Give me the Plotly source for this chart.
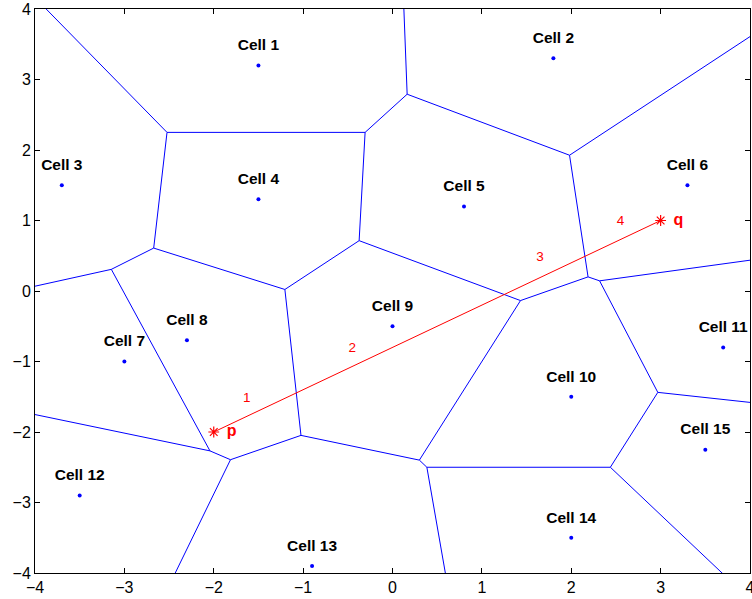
import numpy as np
import plotly.graph_objects as go

# Generator sites of the Voronoi cells
site_x = [-1.5, 1.8, -3.7, -1.5, 0.8, 3.3, -3.0, -2.3, 0.0, 2.0, 3.7, -3.5, -0.9, 2.0, 3.5]
site_y = [3.2, 3.3, 1.5, 1.3, 1.2, 1.5, -1.0, -0.7, -0.5, -1.5, -0.8, -2.9, -3.9, -3.5, -2.25]
cell_names = ["Cell %d" % (k + 1) for k in range(len(site_x))]

# Query segment from p to q
p_pt = (-2.0, -2.0)
q_pt = (3.0, 1.0)
seg_names = ["p", "q"]

# Sub-segment numbers along p-q
seg_num_x = [-1.63, -0.45, 1.65, 2.55]
seg_num_y = [-1.52, -0.82, 0.47, 0.99]
seg_num_text = ["1", "2", "3", "4"]

tick_vals = [-4, -3, -2, -1, 0, 1, 2, 3, 4]
tick_text = ["\u22124", "\u22123", "\u22122", "\u22121", "0", "1", "2", "3", "4"]


def clip_cell(verts, labels, a, c, tag):
    """Clip polygon to half-plane a.x <= c; new edges receive label tag."""
    out_v, out_l = [], []
    n = len(verts)
    for k in range(n):
        P, Q, L = verts[k], verts[(k + 1) % n], labels[k]
        fp, fq = a @ P - c, a @ Q - c
        pin, qin = fp <= 0, fq <= 0
        if pin and qin:
            out_v.append(P); out_l.append(L)
        elif pin and not qin:
            t = fp / (fp - fq)
            out_v.append(P); out_l.append(L)
            out_v.append(P + t * (Q - P)); out_l.append(tag)
        elif not pin and qin:
            t = fp / (fp - fq)
            out_v.append(P + t * (Q - P)); out_l.append(L)
    return out_v, out_l


sites = np.column_stack([site_x, site_y])
B = 20.0
edge_x, edge_y = [], []
for i, si in enumerate(sites):
    verts = [np.array(v, float) for v in [(-B, -B), (B, -B), (B, B), (-B, B)]]
    labels = [-1, -1, -1, -1]
    for j, sj in enumerate(sites):
        if j == i:
            continue
        a = 2 * (sj - si)
        c = sj @ sj - si @ si
        verts, labels = clip_cell(verts, labels, a, c, j)
    n = len(verts)
    for k in range(n):
        j = labels[k]
        if j > i:
            P, Q = verts[k], verts[(k + 1) % n]
            edge_x += [P[0], Q[0], None]
            edge_y += [P[1], Q[1], None]

fig = go.Figure()

fig.add_trace(go.Scatter(x=edge_x, y=edge_y, mode="lines",
                         line=dict(color="#0000ff", width=1), hoverinfo="skip"))

fig.add_trace(go.Scatter(x=site_x, y=site_y, mode="markers",
                         marker=dict(color="#0000ff", size=4)))

fig.add_trace(go.Scatter(x=site_x, y=[y + 0.27 for y in site_y], mode="text",
                         text=cell_names,
                         textfont=dict(family="Liberation Sans", size=15.5,
                                       color="black", weight="bold")))

fig.add_trace(go.Scatter(x=[p_pt[0], q_pt[0]], y=[p_pt[1], q_pt[1]],
                         mode="lines+markers",
                         line=dict(color="#ff0000", width=1),
                         marker=dict(symbol="asterisk-open", size=9,
                                     line=dict(color="#ff0000", width=1.2),
                                     color="#ff0000")))

fig.add_trace(go.Scatter(x=[p_pt[0] + 0.2, q_pt[0] + 0.2], y=[p_pt[1], q_pt[1]],
                         mode="text", text=seg_names,
                         textfont=dict(family="Liberation Sans", size=16,
                                       color="#ff0000", weight="bold")))

fig.add_trace(go.Scatter(x=seg_num_x, y=seg_num_y, mode="text", text=seg_num_text,
                         textfont=dict(family="Liberation Sans", size=13.5,
                                       color="#ff0000")))

axis_common = dict(range=[-4, 4], tickmode="array", tickvals=tick_vals,
                   ticktext=tick_text, ticks="inside", ticklen=5,
                   tickcolor="black", showline=True, linecolor="black",
                   linewidth=1, mirror="ticks", showgrid=False, zeroline=False,
                   ticklabeloverflow="allow", automargin=False,
                   tickfont=dict(family="Liberation Sans", size=16, color="black"))

fig.update_layout(
    width=752, height=599,
    margin=dict(l=35, r=2, t=9, b=26),
    paper_bgcolor="white", plot_bgcolor="white",
    showlegend=False,
    xaxis=axis_common,
    yaxis=axis_common,
)

fig.write_html("out.html")
